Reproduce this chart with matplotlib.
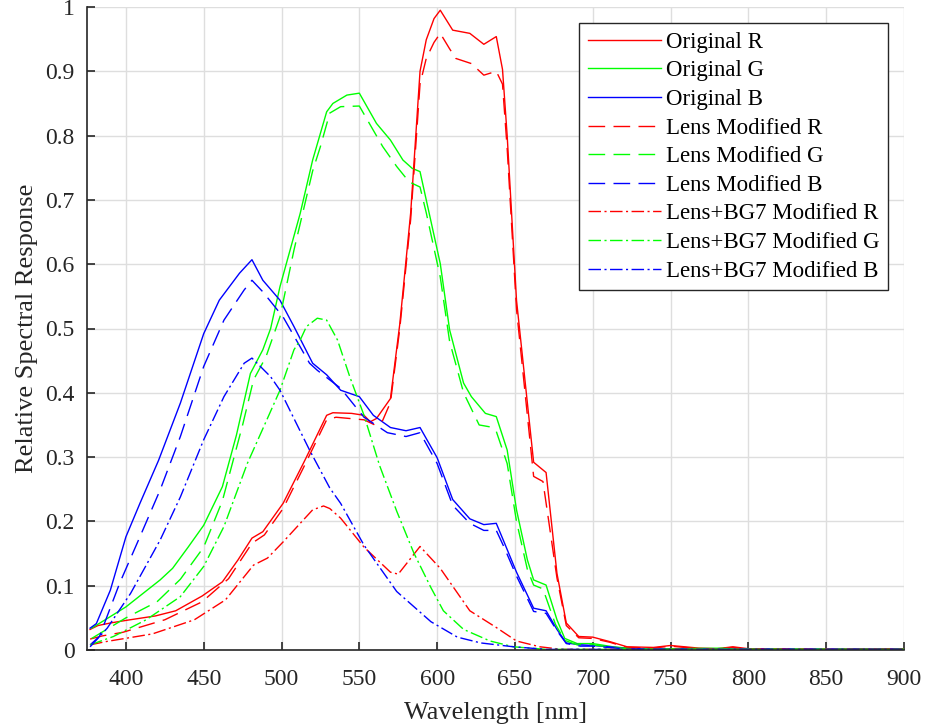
import matplotlib
matplotlib.use("Agg")
import matplotlib.pyplot as plt

plt.rcParams['font.family'] = ['Liberation Serif', 'DejaVu Serif']

# ---------------- data ----------------
wl_R_orig = [377, 382, 390, 400, 419, 432, 449, 462, 472, 481, 488, 501, 515, 529, 533, 545, 553, 557, 561,
             570, 576, 583, 589, 593, 598, 602, 610, 621, 630, 638, 642, 645, 651, 662, 670, 677, 683, 691,
             700, 711, 722, 739, 750, 768, 780, 790, 800, 850, 900]
R_orig = [0.032, 0.038, 0.042, 0.046, 0.053, 0.061, 0.084, 0.106, 0.140, 0.174, 0.184, 0.228, 0.295, 0.365,
          0.369, 0.368, 0.365, 0.355, 0.360, 0.391, 0.507, 0.680, 0.900, 0.949, 0.982, 0.995, 0.964, 0.959,
          0.942, 0.954, 0.903, 0.800, 0.544, 0.292, 0.276, 0.119, 0.042, 0.021, 0.020, 0.013, 0.005, 0.004,
          0.007, 0.003, 0.002, 0.005, 0.002, 0.001, 0.002]

wl_R_lens = [377, 385, 398, 425, 449, 466, 481, 489, 501, 515, 529, 535, 553, 560, 565, 570, 576, 583, 589,
             593, 598, 602, 608, 612, 622, 630, 638, 642, 645, 651, 662, 668, 677, 683, 691, 700, 711, 722,
             739, 750, 768, 780, 790, 800, 850, 900]
R_lens = [0.017, 0.022, 0.0275, 0.047, 0.075, 0.111, 0.166, 0.179, 0.220, 0.288, 0.358, 0.362, 0.358, 0.350,
          0.357, 0.385, 0.500, 0.670, 0.880, 0.920, 0.945, 0.959, 0.935, 0.920, 0.912, 0.894, 0.900, 0.880,
          0.780, 0.530, 0.270, 0.262, 0.112, 0.038, 0.019, 0.018, 0.012, 0.004, 0.003, 0.006, 0.002, 0.002,
          0.004, 0.002, 0.001, 0.002]

wl_R_bg7 = [377, 387, 417, 444, 464, 482, 491, 501, 520, 527, 531, 538, 553, 570, 575, 589, 602, 621, 638,
            651, 666, 680, 900]
R_bg7 = [0.008, 0.013, 0.025, 0.047, 0.078, 0.132, 0.143, 0.168, 0.218, 0.224, 0.220, 0.205, 0.160, 0.121,
         0.118, 0.161, 0.127, 0.061, 0.035, 0.014, 0.005, 0.001, 0.001]

wl_G_orig = [378, 400, 422, 430, 440, 450, 462, 471, 480, 488, 493, 499, 512, 520, 529, 533, 542, 550, 561,
             570, 578, 584, 589, 593, 602, 608, 617, 622, 631, 638, 645, 651, 658, 662, 670, 677, 682, 690,
             700, 713, 730, 750, 790, 800, 900]
G_orig = [0.034, 0.067, 0.109, 0.127, 0.160, 0.194, 0.254, 0.334, 0.430, 0.467, 0.500, 0.565, 0.679, 0.762,
          0.837, 0.850, 0.863, 0.866, 0.819, 0.793, 0.762, 0.749, 0.744, 0.700, 0.601, 0.498, 0.415, 0.394,
          0.368, 0.363, 0.311, 0.218, 0.140, 0.109, 0.101, 0.047, 0.018, 0.010, 0.010, 0.005, 0.001, 0.002,
          0.003, 0.001, 0.001]

wl_G_lens = [378, 400, 420, 435, 450, 462, 475, 482, 490, 499, 508, 520, 525, 531, 538, 550, 565, 574, 582,
             589, 593, 602, 608, 617, 622, 627, 634, 638, 645, 651, 658, 662, 668, 676, 682, 690, 700, 713,
             730, 750, 790, 800, 900]
G_lens = [0.018, 0.050, 0.075, 0.110, 0.160, 0.232, 0.350, 0.420, 0.456, 0.518, 0.622, 0.745, 0.783, 0.835,
          0.845, 0.846, 0.783, 0.752, 0.728, 0.720, 0.680, 0.580, 0.480, 0.400, 0.375, 0.350, 0.347, 0.340,
          0.290, 0.200, 0.125, 0.101, 0.095, 0.040, 0.015, 0.008, 0.008, 0.004, 0.001, 0.002, 0.002, 0.001,
          0.001]

wl_G_bg7 = [377, 392, 413, 435, 450, 463, 478, 490, 499, 508, 512, 516, 523, 529, 536, 544, 553, 563, 574,
            585, 596, 604, 617, 634, 649, 670, 900]
G_bg7 = [0.008, 0.021, 0.047, 0.083, 0.130, 0.192, 0.290, 0.355, 0.404, 0.467, 0.482, 0.503, 0.516, 0.513,
         0.482, 0.424, 0.365, 0.287, 0.216, 0.151, 0.097, 0.061, 0.032, 0.014, 0.005, 0.001, 0.001]

wl_B_orig = [377, 381, 390, 400, 409, 421, 435, 450, 460, 473, 481, 488, 499, 508, 520, 529, 538, 550, 559,
             570, 580, 589, 600, 610, 621, 630, 638, 643, 651, 662, 670, 677, 683, 692, 700, 720, 740, 900]
B_orig = [0.034, 0.041, 0.093, 0.176, 0.228, 0.295, 0.384, 0.492, 0.544, 0.586, 0.607, 0.575, 0.544, 0.503,
          0.446, 0.428, 0.404, 0.394, 0.365, 0.346, 0.341, 0.346, 0.299, 0.234, 0.204, 0.195, 0.197, 0.168,
          0.121, 0.065, 0.061, 0.032, 0.011, 0.008, 0.007, 0.003, 0.001, 0.001]

wl_B_lens = [377, 383, 396, 409, 422, 435, 450, 463, 476, 481, 488, 501, 518, 523, 538, 553, 568, 580, 589,
             600, 610, 621, 630, 638, 643, 651, 662, 670, 677, 683, 692, 700, 720, 740, 900]
B_lens = [0.008, 0.021, 0.104, 0.176, 0.249, 0.332, 0.441, 0.513, 0.560, 0.575, 0.557, 0.518, 0.446, 0.435,
          0.407, 0.362, 0.338, 0.332, 0.338, 0.290, 0.225, 0.197, 0.186, 0.186, 0.160, 0.115, 0.060, 0.057,
          0.030, 0.010, 0.006, 0.006, 0.002, 0.001, 0.001]

wl_B_bg7 = [377, 388, 403, 422, 435, 450, 463, 476, 481, 493, 499, 518, 531, 538, 553, 574, 596, 613, 628,
            649, 670, 900]
B_bg7 = [0.005, 0.034, 0.088, 0.171, 0.238, 0.327, 0.394, 0.446, 0.454, 0.425, 0.404, 0.311, 0.252, 0.228,
         0.163, 0.091, 0.044, 0.020, 0.011, 0.005, 0.001, 0.001]

labels = ['Original R', 'Original G', 'Original B',
          'Lens Modified R', 'Lens Modified G', 'Lens Modified B',
          'Lens+BG7 Modified R', 'Lens+BG7 Modified G', 'Lens+BG7 Modified B']

x_ticks = [400, 450, 500, 550, 600, 650, 700, 750, 800, 850, 900]
y_ticks = [0, 0.1, 0.2, 0.3, 0.4, 0.5, 0.6, 0.7, 0.8, 0.9, 1]
y_ticklabels = ['0', '0.1', '0.2', '0.3', '0.4', '0.5', '0.6', '0.7', '0.8', '0.9', '1']

# ---------------- plot ----------------
fig = plt.figure(figsize=(9.25, 7.28), dpi=100)
ax = fig.add_axes([87 / 925, 78 / 728, (904 - 87) / 925, (650 - 7) / 728])

red, green, blue = '#ff0000', '#00ff00', '#0000ff'
lw = 1.0
dash = (12, 6)
dashdot = (9, 2.5, 1.5, 2.5)

series = [
    (wl_R_orig, R_orig, red, None), (wl_G_orig, G_orig, green, None), (wl_B_orig, B_orig, blue, None),
    (wl_R_lens, R_lens, red, dash), (wl_G_lens, G_lens, green, dash), (wl_B_lens, B_lens, blue, dash),
    (wl_R_bg7, R_bg7, red, dashdot), (wl_G_bg7, G_bg7, green, dashdot), (wl_B_bg7, B_bg7, blue, dashdot),
]
for (x, y, c, d), lab in zip(series, labels):
    line, = ax.plot(x, y, color=c, lw=lw, label=lab)
    if d is not None:
        line.set_dashes(d)

ax.set_xlim(375, 900)
ax.set_ylim(0, 1)
ax.set_xticks(x_ticks)
ax.set_yticks(y_ticks)
ax.set_yticklabels(y_ticklabels)

dark = '#262626'
ax.grid(True, color='#dedede', lw=1.0)
ax.set_axisbelow(True)
for s in ['top', 'right']:
    ax.spines[s].set_visible(False)
for s in ['left', 'bottom']:
    ax.spines[s].set_color(dark)
    ax.spines[s].set_linewidth(1.2)
ax.tick_params(direction='in', length=6, width=1.2, colors=dark, labelsize=17)
ax.tick_params(axis='x', pad=14)
ax.tick_params(axis='y', pad=9)

ax.set_xlabel('Wavelength [nm]', fontsize=19, color=dark, labelpad=8)
ax.set_ylabel('Relative Spectral Response', fontsize=19, color=dark, labelpad=5)

leg = ax.legend(loc='upper right', fontsize=16.5, frameon=True, fancybox=False,
                edgecolor=dark, framealpha=1, handlelength=3.2, handletextpad=0.2,
                labelspacing=0.33, borderpad=0.38, borderaxespad=0.7)
leg.get_frame().set_linewidth(1.0)

fig.savefig('out.png', dpi=100)
